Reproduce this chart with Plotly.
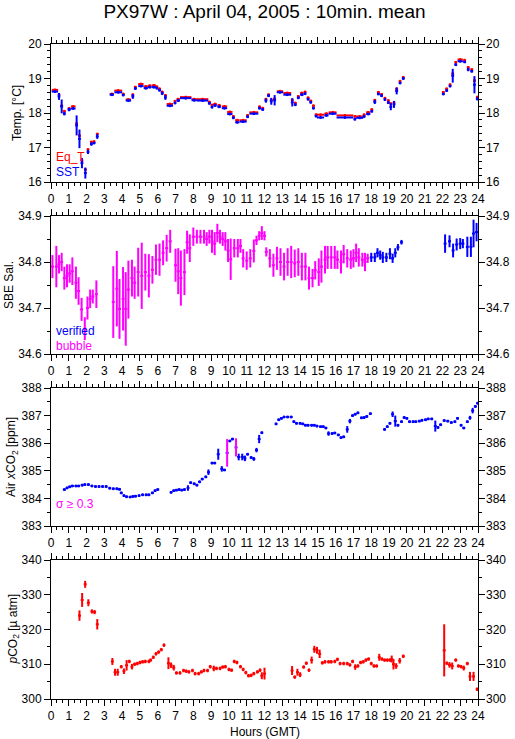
import plotly.graph_objects as go

# ---------------- data ----------------
hour_ticks = list(range(25))

# Panel 1: temperatures (centre time, half width of averaging span)
temp_t = [0.22, 0.45, 0.60, 0.75, 1.02, 1.25, 1.44, 1.60, 1.74, 1.93,
          2.08, 2.27, 2.42, 2.60, 3.42, 3.78, 4.06, 4.35, 4.60, 4.74,
          5.05, 5.33, 5.55, 5.78, 5.95, 6.10, 6.25, 6.43, 6.68, 6.97,
          7.15, 7.57, 8.05, 8.52, 8.90, 9.05, 9.22, 9.45, 9.75, 10.05,
          10.25, 10.47, 10.80, 11.05, 11.40, 11.72, 11.90, 12.08, 12.23, 12.38,
          12.57, 12.87, 13.28, 13.56, 13.73, 13.90, 14.10, 14.28, 14.45, 14.60,
          14.75, 14.90, 15.15, 15.48, 15.83, 16.52, 17.08, 17.35, 17.60, 17.83,
          18.03, 18.20, 18.40, 18.58, 18.77, 18.96, 19.10, 19.28, 19.43, 19.62,
          19.80, 22.05, 22.24, 22.43, 22.58, 22.75, 23.00, 23.25, 23.45, 23.65,
          23.80, 23.96]
temp_hw = [0.18, .08, .08, .08, .09, .13, .08, .08, .08, .08,
           .08, .08, .08, .08, .12, .22, .08, .15, .08, .08,
           .15, .12, .10, .12, .08, .08, .08, .08, .18, .08,
           .10, .32, .15, .32, .08, .08, .10, .10, .15, .15,
           .08, .12, .20, .08, .25, .08, .08, .08, .08, .08,
           .08, .18, .22, .08, .08, .08, .10, .08, .08, .08,
           .08, .08, .20, .12, .22, .47, .08, .20, .08, .12,
           .08, .08, .08, .08, .08, .08, .08, .08, .08, .08,
           .08, .08, .08, .08, .08, .08, .15, .08, .08, .08,
           .08, .08]
eq_t = [18.67, 18.53, 18.21, 18.05, 18.13, 18.19, 17.69, 17.34, 16.62, 16.36,
        16.94, 17.16, 17.17, 17.39, 18.55, 18.65, 18.55, 18.39, 18.53, 18.75,
        18.84, 18.77, 18.79, 18.80, 18.76, 18.70, 18.61, 18.51, 18.26, 18.34,
        18.40, 18.46, 18.40, 18.40, 18.32, 18.23, 18.26, 18.22, 18.19, 18.03,
        17.90, 17.79, 17.79, 17.93, 18.02, 18.18, 18.14, 18.40, 18.53, 18.38,
        18.41, 18.63, 18.58, 18.38, 18.29, 18.48, 18.58, 18.61, 18.44, 18.35,
        18.21, 17.95, 17.95, 17.98, 18.02, 17.93, 17.90, 17.90, 17.95, 18.02,
        18.10, 18.37, 18.60, 18.54, 18.43, 18.36, 18.27, 18.30, 18.70, 18.92,
        19.03, 18.60, 18.70, 18.82, 19.14, 19.47, 19.55, 19.53, 19.32, 19.26,
        18.94, 18.46]
sst = [18.62, 18.48, 18.19, 17.98, 18.10, 18.13, 17.64, 17.25, 16.55, 16.26,
       16.87, 17.10, 17.13, 17.32, 18.53, 18.60, 18.52, 18.36, 18.48, 18.71,
       18.78, 18.72, 18.75, 18.75, 18.72, 18.66, 18.57, 18.45, 18.21, 18.29,
       18.36, 18.43, 18.37, 18.36, 18.28, 18.17, 18.22, 18.18, 18.14, 17.97,
       17.86, 17.73, 17.75, 17.89, 17.98, 18.14, 18.10, 18.36, 18.50, 18.34,
       18.37, 18.60, 18.53, 18.31, 18.24, 18.44, 18.53, 18.56, 18.40, 18.31,
       18.14, 17.91, 17.87, 17.93, 17.98, 17.87, 17.82, 17.86, 17.90, 17.97,
       18.05, 18.32, 18.55, 18.50, 18.39, 18.30, 18.18, 18.25, 18.64, 18.87,
       19.00, 18.55, 18.65, 18.78, 19.08, 19.40, 19.50, 19.48, 19.26, 19.21,
       18.82, 18.41]
sst_err = [.04, .10, .20, .05, .05, .04, .29, .27, .15, .16,
           .06, .05, .04, .07, .04, .04, .04, .04, .07, .04,
           .04, .04, .04, .04, .04, .04, .05, .07, .04, .04,
           .04, .04, .04, .04, .04, .04, .04, .04, .04, .04,
           .04, .04, .04, .04, .04, .04, .04, .06, .04, .10,
           .15, .04, .04, .12, .04, .04, .04, .04, .04, .04,
           .04, .04, .04, .04, .04, .04, .04, .04, .04, .04,
           .04, .06, .04, .04, .04, .04, .10, .10, .10, .04,
           .04, .04, .04, .04, .20, .04, .04, .04, .05, .04,
           .25, .05]

# Panel 2: salinity
sal_b_t = [0.08, 0.30, 0.45, 0.60, 0.75, 0.90, 1.05, 1.20, 1.40, 1.55,
           1.72, 1.90, 2.05, 2.20, 2.35, 2.55, 3.50, 3.70, 3.85, 4.05,
           4.20, 4.35, 4.55, 4.70, 4.90, 5.10, 5.30, 5.50, 5.70, 5.90,
           6.10, 6.30, 6.50, 6.70, 7.00, 7.15, 7.30, 7.50, 7.65, 7.80,
           8.00, 8.20, 8.40, 8.60, 8.75, 8.90, 9.05, 9.20, 9.35, 9.50,
           9.65, 9.80, 9.95, 10.10, 10.30, 10.50, 10.65, 10.80, 11.00, 11.20,
           11.40, 11.55, 11.70, 11.85, 12.00, 12.10, 12.30, 12.50, 12.70, 12.90,
           13.10, 13.30, 13.50, 13.70, 13.90, 14.10, 14.30, 14.50, 14.70, 14.85,
           15.05, 15.20, 15.40, 15.55, 15.75, 15.95, 16.10, 16.30, 16.45, 16.65,
           16.85, 17.00, 17.15, 17.30, 17.50, 17.65, 17.80]
sal_b_v = [34.790, 34.790, 34.795, 34.800, 34.765, 34.770, 34.775, 34.780, 34.755, 34.737,
           34.697, 34.655, 34.700, 34.720, 34.725, 34.730, 34.713, 34.742, 34.698, 34.720,
           34.698, 34.740, 34.765, 34.755, 34.778, 34.770, 34.778, 34.770, 34.783, 34.805,
           34.805, 34.820, 34.830, 34.845, 34.793, 34.780, 34.765, 34.778, 34.843, 34.830,
           34.855, 34.855, 34.855, 34.855, 34.850, 34.855, 34.845, 34.840, 34.863, 34.855,
           34.850, 34.845, 34.825, 34.806, 34.830, 34.830, 34.835, 34.808, 34.803, 34.808,
           34.824, 34.847, 34.857, 34.863, 34.857, 34.822, 34.808, 34.793, 34.808, 34.800,
           34.790, 34.800, 34.800, 34.797, 34.800, 34.790, 34.790, 34.765, 34.765, 34.782,
           34.778, 34.790, 34.805, 34.810, 34.810, 34.810, 34.805, 34.800, 34.817, 34.808,
           34.805, 34.808, 34.820, 34.810, 34.805, 34.800, 34.808]
sal_b_e = [.025, .045, .020, .020, .025, .025, .020, .030, .035, .030,
           .025, .025, .025, .020, .015, .030, .078, .082, .065, .069,
           .080, .063, .040, .035, .053, .072, .040, .047, .030, .033,
           .035, .027, .029, .025, .036, .050, .060, .050, .025, .030,
           .020, .015, .015, .015, .015, .015, .025, .025, .020, .015,
           .015, .020, .025, .045, .020, .020, .015, .020, .020, .020,
           .025, .010, .010, .015, .010, .010, .020, .025, .025, .030,
           .030, .030, .035, .030, .030, .030, .030, .025, .020, .020,
           .030, .035, .030, .025, .025, .025, .020, .025, .020, .020,
           .020, .020, .020, .020, .015, .020, .010]
sal_v_t = [18.00, 18.20, 18.35, 18.50, 18.65, 18.85, 19.05, 19.20, 19.35, 19.50,
           19.70, 22.15, 22.40, 22.60, 22.80, 23.00, 23.15, 23.40, 23.60, 23.75,
           23.92]
sal_v_v = [34.810, 34.810, 34.820, 34.815, 34.810, 34.810, 34.818, 34.808, 34.820, 34.832,
           34.843, 34.840, 34.845, 34.825, 34.838, 34.840, 34.840, 34.833, 34.833, 34.862,
           34.865]
sal_v_e = [.010, .010, .010, .010, .012, .010, .012, .010, .010, .007,
           .005, .020, .013, .015, .013, .012, .010, .022, .022, .030,
           .020]

# Panel 3: atmospheric xCO2
co2a_t = [0.75, 0.90, 1.05, 1.20, 1.40, 1.55, 1.75, 1.90, 2.10, 2.30,
          2.50, 2.70, 2.90, 3.10, 3.30, 3.50, 3.70, 3.85, 3.95, 4.10,
          4.25, 4.45, 4.60, 4.75, 4.95, 5.15, 5.35, 5.50, 5.70, 5.85,
          6.00, 6.75, 6.90, 7.05, 7.20, 7.35, 7.50, 7.70, 7.85, 8.05,
          8.20, 8.35, 8.50, 8.70, 8.85, 9.05, 9.20, 9.40, 9.60, 9.75,
          9.90, 10.05, 10.20, 10.40, 10.55, 10.75, 10.90, 11.05, 11.25, 11.40,
          11.55, 11.70, 11.85, 12.65, 12.80, 12.95, 13.10, 13.30, 13.50, 13.65,
          13.80, 14.00, 14.15, 14.30, 14.45, 14.65, 14.80, 14.95, 15.15, 15.30,
          15.45, 15.60, 15.80, 15.95, 16.15, 16.30, 16.45, 16.65, 16.80, 16.95,
          17.10, 17.25, 17.45, 17.60, 17.75, 17.95, 18.75, 18.90, 19.05, 19.20,
          19.35, 19.50, 19.70, 19.85, 20.00, 20.15, 20.35, 20.50, 20.70, 20.85,
          21.05, 21.20, 21.40, 21.60, 21.75, 21.90, 22.10, 22.30, 22.50, 22.70,
          22.85, 23.05, 23.20, 23.40, 23.55, 23.70, 23.85, 23.98]
co2a_v = [384.32, 384.38, 384.42, 384.45, 384.45, 384.45, 384.48, 384.50, 384.50, 384.45,
          384.43, 384.43, 384.43, 384.43, 384.37, 384.35, 384.35, 384.33, 384.20, 384.10,
          384.06, 384.05, 384.07, 384.08, 384.10, 384.13, 384.13, 384.13, 384.20, 384.28,
          384.32, 384.22, 384.28, 384.30, 384.32, 384.30, 384.32, 384.38, 384.57, 384.53,
          384.48, 384.60, 384.70, 384.78, 384.95, 385.28, 385.28, 385.60, 385.07, 385.03,
          385.65, 386.08, 386.15, 385.85, 385.50, 385.50, 385.45, 385.60, 385.48, 385.43,
          385.75, 386.15, 386.38, 386.70, 386.85, 386.90, 386.95, 386.95, 386.95, 386.78,
          386.72, 386.72, 386.70, 386.65, 386.65, 386.65, 386.65, 386.62, 386.60, 386.60,
          386.55, 386.35, 386.35, 386.37, 386.30, 386.20, 386.23, 386.50, 386.80, 387.00,
          387.05, 387.10, 386.92, 386.93, 386.97, 387.07, 386.50, 386.60, 386.72, 387.05,
          386.80, 386.65, 386.78, 386.93, 386.90, 386.78, 386.78, 386.78, 386.80, 386.83,
          386.85, 386.88, 386.88, 386.62, 386.57, 386.67, 386.82, 386.80, 386.75, 386.78,
          386.90, 386.65, 386.55, 386.78, 386.92, 387.18, 387.33, 387.45]
co2a_e = [.05, .05, .05, .05, .05, .05, .05, .05, .05, .05,
          .05, .05, .05, .05, .05, .05, .05, .05, .05, .05,
          .05, .05, .05, .05, .05, .05, .05, .05, .05, .05,
          .05, .05, .05, .05, .05, .05, .05, .10, .05, .05,
          .05, .05, .05, .05, .10, .05, .05, .20, .10, .05,
          .50, .05, .05, .33, .12, .12, .10, .05, .05, .07,
          .08, .15, .05, .05, .05, .05, .05, .05, .05, .05,
          .05, .05, .05, .05, .05, .05, .05, .05, .05, .05,
          .05, .08, .05, .05, .05, .05, .05, .12, .08, .05,
          .05, .05, .05, .05, .05, .05, .05, .05, .05, .10,
          .20, .05, .05, .05, .05, .05, .05, .05, .05, .05,
          .05, .05, .05, .20, .05, .05, .05, .05, .05, .05,
          .05, .05, .05, .05, .07, .10, .05, .05]

# Panel 4: seawater pCO2
pco2_t = [1.60, 1.75, 1.92, 2.10, 2.30, 2.45, 2.60, 3.45, 3.60, 3.75,
          3.95, 4.10, 4.25, 4.40, 4.55, 4.70, 4.85, 5.00, 5.15, 5.30,
          5.50, 5.60, 5.75, 5.90, 6.05, 6.20, 6.35, 6.60, 6.75, 6.90,
          7.05, 7.25, 7.45, 7.60, 7.75, 7.95, 8.10, 8.30, 8.45, 8.60,
          8.80, 8.95, 9.15, 9.30, 9.50, 9.65, 9.80, 10.00, 10.15, 10.30,
          10.45, 10.65, 10.80, 10.95, 11.10, 11.25, 11.40, 11.60, 11.75, 11.85,
          12.00, 13.55, 13.70, 13.85, 14.00, 14.20, 14.35, 14.50, 14.65, 14.80,
          14.95, 15.10, 15.25, 15.40, 15.60, 15.75, 15.95, 16.10, 16.25, 16.45,
          16.65, 16.80, 16.95, 17.10, 17.25, 17.40, 17.55, 17.70, 17.85, 18.00,
          18.15, 18.30, 18.45, 18.60, 18.75, 18.90, 19.05, 19.15, 19.25, 19.40,
          19.60, 19.80, 22.10, 22.25, 22.40, 22.55, 22.75, 22.90, 23.05, 23.20,
          23.40, 23.55, 23.75, 23.95]
pco2_v = [324.0, 328.5, 333.0, 327.7, 325.2, 325.0, 321.5, 310.8, 307.7, 307.7,
          309.3, 308.0, 309.7, 310.8, 309.3, 310.0, 310.2, 310.5, 310.7, 310.8,
          310.8, 311.2, 312.0, 313.0, 313.5, 314.2, 315.5, 310.3, 309.7, 309.0,
          307.5, 307.5, 308.2, 308.0, 307.8, 308.2, 307.3, 307.3, 307.8, 308.2,
          308.2, 309.3, 308.8, 308.8, 308.8, 309.2, 309.3, 308.5, 308.3, 310.8,
          310.5, 309.3, 308.5, 307.6, 306.7, 306.8, 307.3, 307.8, 308.3, 306.7,
          307.3, 308.2, 306.3, 307.7, 307.0, 309.2, 310.3, 308.3, 311.2, 314.3,
          314.0, 313.0, 310.4, 310.7, 310.7, 310.7, 310.8, 311.4, 310.2, 310.2,
          310.2, 309.8, 310.8, 309.2, 309.5, 310.5, 310.7, 311.2, 311.5, 310.2,
          309.5, 309.5, 312.0, 311.5, 311.2, 311.2, 311.2, 311.5, 310.0, 309.5,
          311.0, 312.3, 314.0, 310.3, 309.8, 309.5, 311.2, 309.5, 309.3, 308.9,
          310.2, 306.5, 306.5, 302.8]
pco2_e = [1.5, 2.0, 1.0, 1.0, 0.6, 0.6, 1.5, 1.0, 1.0, 1.0,
          0.5, 0.8, 1.5, 0.5, 0.8, 0.5, 0.5, 0.5, 0.5, 0.5,
          0.5, 0.5, 0.5, 0.5, 0.5, 0.5, 0.5, 1.7, 0.8, 0.8,
          0.5, 0.5, 0.5, 0.5, 0.5, 0.5, 0.5, 0.5, 0.5, 0.5,
          0.5, 0.5, 0.8, 0.5, 0.5, 0.5, 0.5, 0.5, 0.5, 0.5,
          0.5, 0.5, 0.5, 0.5, 0.5, 0.5, 0.5, 0.5, 0.5, 1.0,
          1.7, 1.3, 0.5, 1.0, 0.7, 0.5, 0.5, 0.5, 1.0, 1.0,
          1.0, 1.2, 0.5, 0.5, 0.5, 0.5, 0.5, 0.5, 0.5, 0.5,
          0.5, 0.5, 0.5, 0.8, 0.5, 0.5, 0.5, 0.5, 0.5, 0.5,
          0.5, 0.5, 1.0, 0.5, 0.5, 0.5, 0.5, 1.0, 1.5, 0.8,
          0.8, 0.5, 7.5, 0.5, 0.8, 1.0, 0.5, 0.5, 0.5, 0.7,
          0.5, 1.3, 1.3, 0.5]

# ---------------- style ----------------
HALF_WIN = 1 / 12          # half of a 10-minute averaging window (hours)
EQ_TICK = 0.04             # small vertical stroke of Eq_T crosses
SIGMA_FLAG = 0.3
RED, BLUE, MAG = "#FF0000", "#0000FF", "#FF00FF"
FONT = "Liberation Sans, Arial, sans-serif"

W, H = 515, 739
ML, MR, MT, MB = 51, 37, 44, 40
PH = H - MT - MB
panels_px = [(44, 182), (216, 354), (388, 526), (560, 699)]


def dom(top, bot):
    return [1 - (bot - MT) / PH, 1 - (top - MT) / PH]


def ypaper(py):
    return 1 - (py - MT) / PH


def xpaper(px):
    return (px - ML) / (W - ML - MR)


def cross(x, y, ex, ey, color, idx, show_x=True, show_y=True):
    return go.Scatter(
        x=x, y=y, mode="markers",
        marker=dict(size=2, color=color),
        error_x=dict(type="data", array=ex, symmetric=True, width=0,
                     thickness=2, color=color, visible=show_x),
        error_y=dict(type="data", array=ey, symmetric=True, width=0,
                     thickness=2, color=color, visible=show_y),
        xaxis=f"x{idx}" if idx > 1 else "x",
        yaxis=f"y{idx}" if idx > 1 else "y",
        showlegend=False, hoverinfo="skip", cliponaxis=True,
    )


fig = go.Figure()

# Panel 1
fig.add_trace(cross(temp_t, eq_t, temp_hw, [EQ_TICK] * len(eq_t), RED, 1))
fig.add_trace(cross(temp_t, sst, temp_hw, sst_err, BLUE, 1))

# Panel 2
fig.add_trace(cross(sal_b_t, sal_b_v, [HALF_WIN] * len(sal_b_t), sal_b_e, MAG, 2))
fig.add_trace(cross(sal_v_t, sal_v_v, [HALF_WIN] * len(sal_v_t), sal_v_e, BLUE, 2))

# Panel 3 (large sigma drawn in magenta)
ok_e = [e if e < SIGMA_FLAG else 0 for e in co2a_e]
fig.add_trace(cross(co2a_t, co2a_v, [HALF_WIN] * len(co2a_t), ok_e, BLUE, 3))
flag_t = [t for t, e in zip(co2a_t, co2a_e) if e >= SIGMA_FLAG]
flag_v = [v for v, e in zip(co2a_v, co2a_e) if e >= SIGMA_FLAG]
flag_e = [e for e in co2a_e if e >= SIGMA_FLAG]
fig.add_trace(cross(flag_t, flag_v, [0] * len(flag_t), flag_e, MAG, 3, show_x=False))

# Panel 4
fig.add_trace(cross(pco2_t, pco2_v, [HALF_WIN] * len(pco2_t), pco2_e, RED, 4))

yranges = [(16, 20, 1, 0.2), (34.6, 34.9, 0.1, 0.05), (383, 388, 1, 0.5), (300, 340, 10, 5)]

layout = dict(
    width=W, height=H,
    margin=dict(l=ML, r=MR, t=MT, b=MB, autoexpand=False),
    paper_bgcolor="white", plot_bgcolor="white",
    font=dict(family=FONT, size=12, color="black"),
    title=dict(text="PX97W : April 04, 2005 : 10min. mean", x=0.5, xref="paper",
               y=1 - 11 / H, yanchor="middle", font=dict(size=19, family=FONT)),
)

for i in range(1, 5):
    top, bot = panels_px[i - 1]
    lo, hi, dt, mdt = yranges[i - 1]
    xs = "" if i == 1 else str(i)
    ys = "" if i == 1 else str(i)
    layout[f"xaxis{xs}"] = dict(
        domain=[0, 1], anchor=f"y{ys}", range=[0, 24], automargin=False,
        tickmode="array", tickvals=hour_ticks, ticktext=[str(h) for h in hour_ticks],
        ticks="outside", ticklen=6, tickwidth=1, tickcolor="black",
        minor=dict(tickmode="linear", tick0=0, dtick=1 / 3, ticks="outside",
                   ticklen=3, tickwidth=1, tickcolor="black", showgrid=False),
        showline=True, linecolor="black", linewidth=1, mirror="ticks",
        showgrid=False, zeroline=False, fixedrange=True,
        tickfont=dict(size=12),
    )
    layout[f"yaxis{ys}"] = dict(
        domain=dom(top, bot), anchor=f"x{xs}", range=[lo, hi], automargin=False,
        tickmode="linear", tick0=lo, dtick=dt,
        ticks="outside", ticklen=6, tickwidth=1, tickcolor="black",
        minor=dict(tickmode="linear", tick0=lo, dtick=mdt, ticks="outside",
                   ticklen=3, tickwidth=1, tickcolor="black", showgrid=False),
        showline=True, linecolor="black", linewidth=1, mirror="ticks",
        showgrid=False, zeroline=False, fixedrange=True,
        tickfont=dict(size=12),
    )
    # right-hand labels
    r = i + 4
    layout[f"yaxis{r}"] = dict(
        overlaying=f"y{ys}", side="right", anchor=f"x{xs}", range=[lo, hi],
        automargin=False,
        tickmode="linear", tick0=lo, dtick=dt, ticks="", ticklabelstandoff=7,
        showline=False, showgrid=False, zeroline=False, fixedrange=True,
        tickfont=dict(size=12),
    )
    fig.add_trace(go.Scatter(x=[None], y=[None], xaxis=f"x{xs}", yaxis=f"y{r}",
                             showlegend=False, hoverinfo="skip"))

fig.update_layout(**layout)

ann = []
ytitles = [("Temp. [°C]", 17), ("SBE Sal.", 9), ("Air <i>x</i>CO<sub>2</sub> [ppm]", 12),
           ("<i>p</i>CO<sub>2</sub> [µ atm]", 13)]
for (txt, px), (top, bot) in zip(ytitles, panels_px):
    ann.append(dict(text=txt, x=xpaper(px), y=ypaper((top + bot) / 2), xref="paper",
                    yref="paper", textangle=-90, showarrow=False, xanchor="center",
                    yanchor="middle", font=dict(size=12)))

legend_txt = [("Eq_T", RED, 157), ("SST", BLUE, 172), ("verified", BLUE, 331),
              ("bubble", MAG, 346), ("σ ≥ 0.3", MAG, 504)]
for txt, col, py in legend_txt:
    ann.append(dict(text=txt, x=xpaper(54), y=ypaper(py), xref="paper", yref="paper",
                    showarrow=False, xanchor="left", yanchor="middle",
                    font=dict(size=12, color=col)))

ann.append(dict(text="Hours (GMT)", x=0.5, y=ypaper(732), xref="paper", yref="paper",
                showarrow=False, xanchor="center", yanchor="middle", font=dict(size=12)))
fig.update_layout(annotations=ann)

fig.write_html(
    "out.html",
    config={"displayModeBar": False, "staticPlot": True},
    post_script="document.body.style.margin='0';document.body.style.padding='0';"
                "document.body.style.overflow='hidden';",
)
